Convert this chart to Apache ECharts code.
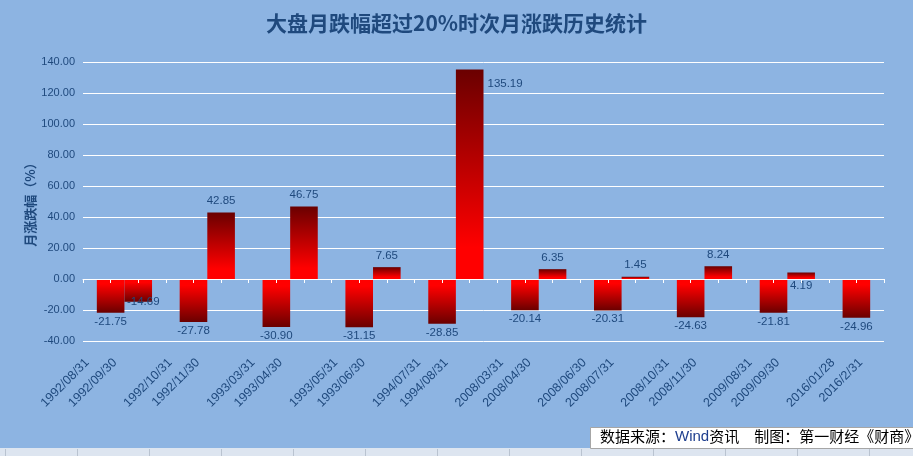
<!DOCTYPE html>
<html><head><meta charset="utf-8">
<script src="https://cdn.jsdelivr.net/npm/echarts@6/dist/echarts.min.js"></script>
<style>html,body{margin:0;padding:0;background:#8DB4E2;}#c{width:913px;height:456px;}</style>
</head><body><div id="c"></div>
<script>
// 跌幅超过20%的月份及其次月
const dropDates = ['1992/08/31','1992/10/31','1993/03/31','1993/05/31','1994/07/31','2008/03/31','2008/06/30','2008/10/31','2009/08/31','2016/01/28'];
const dropValues = [-21.75,-27.78,-30.90,-31.15,-28.85,-20.14,-20.31,-24.63,-21.81,-24.96];
const nextDates = ['1992/09/30','1992/11/30','1993/04/30','1993/06/30','1994/08/31','2008/04/30','2008/07/31','2008/11/30','2009/09/30','2016/2/31'];
const nextValues = [-14.69,42.85,46.75,7.65,135.19,6.35,1.45,8.24,4.19,null];
const yMin = -40, yMax = 140, yStep = 20;

const TXT = '#1F497D';
const FONT = '"Liberation Sans", Arial, "Noto Sans CJK SC", sans-serif';

// 30 slots: each pair uses 3 slots
const nSlots = dropDates.length * 3;
const barCats = [], labelCats = [];
const dropData = [], nextData = [];
for (let i = 0; i < nSlots; i++) { barCats.push('s' + i); labelCats.push(''); dropData.push(null); nextData.push(null); }
const posGrad = new echarts.graphic.LinearGradient(0,0,0,1,[{offset:0,color:'#6a0000'},{offset:0.85,color:'#ff0000'},{offset:1,color:'#ff0000'}]);
const negGrad = new echarts.graphic.LinearGradient(0,0,0,1,[{offset:0,color:'#ff0000'},{offset:0.15,color:'#ff0000'},{offset:1,color:'#6a0000'}]);
function item(v, extra) {
  if (v === null || v === undefined) return null;
  const lab = Object.assign({position: v >= 0 ? 'top' : 'bottom', distance: v >= 0 ? 6 : 3}, extra || {});
  return {value: v, itemStyle: {color: v >= 0 ? posGrad : negGrad}, label: lab};
}
const special = {
  '135.19': {position: ['100%', 0], align: 'left', verticalAlign: 'middle', offset: [4, 14]},
  '4.19': {position: 'bottom', distance: 1},
  '-14.69': {offset: [5, -9]}
};
dropDates.forEach((d, k) => {
  barCats[3*k+1] = d; barCats[3*k+2] = nextDates[k];
  labelCats[3*k] = d; labelCats[3*k+1] = nextDates[k];
  dropData[3*k+1] = item(dropValues[k], special[dropValues[k].toFixed(2)]);
  const nv = nextValues[k];
  nextData[3*k+2] = item(nv, nv === null ? null : special[nv.toFixed(2)]);
});

const labelStyle = {show: true, color: TXT, fontSize: 11.5, fontFamily: FONT, formatter: p => p.value.toFixed(2)};

const chart = echarts.init(document.getElementById('c'));
chart.setOption({
  backgroundColor: '#8DB4E2',
  animation: false,
  title: {text: '大盘月跌幅超过20%时次月涨跌历史统计', left: 'center', top: 8,
    textStyle: {fontSize: 21, fontWeight: 'bold', color: TXT, fontFamily: '"Noto Sans CJK SC", sans-serif'}},
  grid: {left: 83, right: 29, top: 62, bottom: 115},
  xAxis: [
    {type: 'category', data: barCats, boundaryGap: false,
     axisLine: {onZero: true, lineStyle: {color: '#ffffff', width: 1}},
     axisTick: {show: true, interval: 0, length: 4, lineStyle: {color: '#ffffff'}},
     axisLabel: {show: false}, splitLine: {show: false}, z: 5},
    {type: 'category', data: labelCats, boundaryGap: false, position: 'bottom',
     axisLine: {show: false, onZero: false}, axisTick: {show: false},
     axisLabel: {show: true, interval: 0, rotate: 45, margin: 24, padding: [0, -6, 0, 0], fontSize: 12.5, color: TXT, fontFamily: FONT}}
  ],
  yAxis: {type: 'value', min: yMin, max: yMax, interval: yStep,
    name: '月涨跌幅（%）', nameLocation: 'middle', nameGap: 46, nameMoveOverlap: false,
    nameTextStyle: {fontSize: 13, fontWeight: 'bold', color: TXT, fontFamily: '"Noto Sans CJK SC", sans-serif'},
    axisLine: {show: false}, axisTick: {show: false},
    axisLabel: {formatter: v => v.toFixed(2), fontSize: 11, color: TXT, margin: 8, fontFamily: FONT},
    splitLine: {lineStyle: {color: '#ffffff', width: 1}}},
  series: [
    {name: '当月', type: 'bar', xAxisIndex: 0, data: dropData, barWidth: 27.6, barGap: '-100%', label: labelStyle},
    {name: '次月', type: 'bar', xAxisIndex: 0, data: nextData, barWidth: 27.6, barGap: '-100%', label: labelStyle}
  ],
  graphic: [
    {type: 'rect', left: 0, top: 448, shape: {width: 913, height: 8}, style: {fill: '#dde5f0'}, silent: true},
    {type: 'group', silent: true, children: [0,1,2,3,4,5,6,7,8,9,10,11,12].map(i => ({type: 'line', shape: {x1: 5.5 + i*72, y1: 449, x2: 5.5 + i*72, y2: 456}, style: {stroke: '#b9c3d0', lineWidth: 1}}))},
    {type: 'rect', left: 590, top: 427, shape: {width: 330, height: 21}, style: {fill: '#ffffff', stroke: '#a6a6a6', lineWidth: 1}, silent: true},
    {type: 'text', left: 600, top: 429, silent: true,
     style: {text: '数据来源：{w|Wind}资讯　制图：第一财经《财商》', fill: '#000000', font: '15px "Noto Sans CJK SC", sans-serif',
       rich: {w: {fill: '#1f3f8f', font: '15px "Liberation Sans", Arial, sans-serif'}}}}
  ]
});
</script></body></html>
